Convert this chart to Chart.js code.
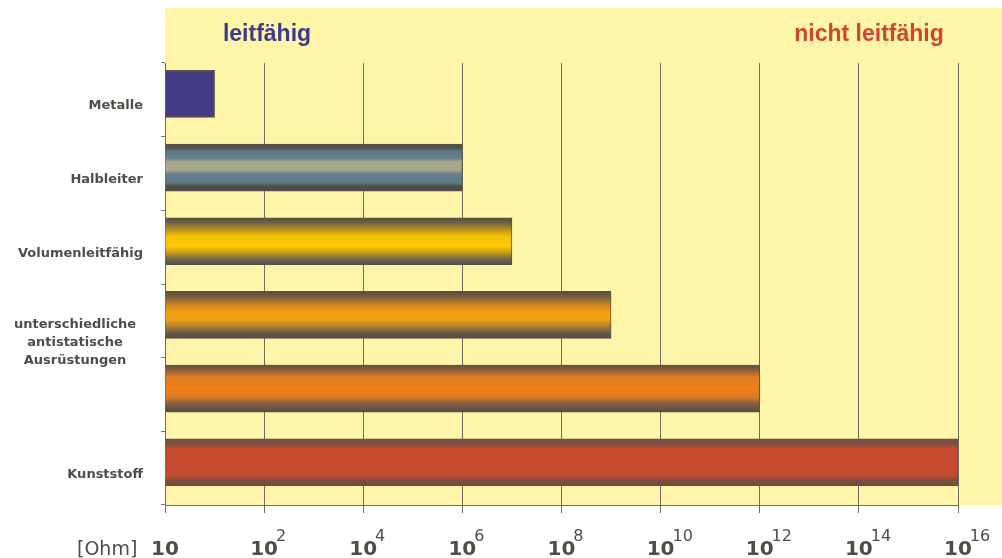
<!DOCTYPE html>
<html>
<head>
<meta charset="utf-8">
<script src="https://cdn.jsdelivr.net/npm/chart.js@4"></script>
<style>
    html, body { margin: 0; padding: 0; background: #fff; }
    #wrap { width: 1002px; height: 558px; position: relative; }
</style>
</head>
<body>
<div id="wrap"><canvas id="chart"></canvas></div>
<script>
// Werte (Widerstand in Ohm)
var categories = ['Metalle', 'Halbleiter', 'Volumenleitfähig',
    'unterschiedliche\nantistatische\nAusrüstungen',
    'unterschiedliche\nantistatische\nAusrüstungen',
    'Kunststoff'];
var resistance = [1e1, 1e6, 1e7, 1e9, 1e12, 1e16];
var tickValues = [1, 1e2, 1e4, 1e6, 1e8, 1e10, 1e12, 1e14, 1e16];
var tickBases = ['10', '10', '10', '10', '10', '10', '10', '10', '10'];
var tickExponents = ['', '2', '4', '6', '8', '10', '12', '14', '16'];
var unitLabel = '[Ohm]';
var leftHeading = 'leitfähig';
var rightHeading = 'nicht leitfähig';

// Farbverläufe der Balken (oben -> unten)
var barStops = [
    [[0, '#56525e'], [0.06, '#443d86'], [0.94, '#443d86'], [1, '#4c4660']],
    [[0, '#4f4d42'], [0.09, '#56574e'], [0.15, '#5c7a88'], [0.3, '#66808c'], [0.38, '#aaa88b'],
        [0.56, '#a8a689'], [0.63, '#66808c'], [0.82, '#5c7a88'], [0.9, '#4f4d42'], [1, '#4f4d42']],
    [[0, '#585040'], [0.1, '#6d6048'], [0.25, '#b89020'], [0.4, '#f5c400'], [0.6, '#ffc800'],
        [0.75, '#c89a18'], [0.88, '#706450'], [1, '#555045']],
    [[0, '#5a4a3c'], [0.12, '#7a6040'], [0.3, '#d08a20'], [0.45, '#f5a010'], [0.6, '#f0a018'],
        [0.75, '#b07a30'], [0.88, '#6a5a48'], [1, '#55483c']],
    [[0, '#6a4e40'], [0.1, '#8a6040'], [0.25, '#e07a20'], [0.5, '#f08018'], [0.7, '#d87828'],
        [0.8, '#8a6040'], [0.92, '#6a5446'], [1, '#5a4a40']],
    [[0, '#7a5040'], [0.12, '#7a5040'], [0.2, '#c84a30'], [0.8, '#c44a30'], [0.88, '#7a5040'], [1, '#75503f']]
];
var fallbackColors = ['#443d86', '#5c7a88', '#f5c400', '#f0a018', '#f08018', '#c84a30'];

var BAR_H = 47;
var TEXT = '#4e4d46';

var decor = {
    id: 'decor',
    beforeDraw(chart) {
        var c = chart.ctx, a = chart.chartArea;
        c.save();
        c.fillStyle = '#fff';
        c.fillRect(0, 0, chart.width, chart.height);
        c.fillStyle = '#fff5a8';
        c.fillRect(a.left, 8, chart.width - a.left, a.bottom - 8);
        c.restore();
    },
    afterDraw(chart) {
        var c = chart.ctx, a = chart.chartArea;
        var xs = chart.scales.x, ys = chart.scales.y;
        c.save();

        // Überschriften
        c.font = 'bold 23px "Liberation Sans"';
        c.textAlign = 'center';
        c.textBaseline = 'alphabetic';
        c.fillStyle = '#3b3a8c';
        c.fillText(leftHeading, a.left + 102, 41);
        c.fillStyle = '#d2442f';
        c.fillText(rightHeading, a.right - 89, 41);

        // Kategorien
        c.fillStyle = TEXT;
        c.font = 'bold 13px "DejaVu Sans"';
        c.textBaseline = 'middle';
        for (var i = 0; i < categories.length; i++) {
            if (i > 0 && categories[i] === categories[i - 1]) continue;
            if (categories[i] === categories[i + 1]) {
                var mid = (ys.getPixelForValue(i) + ys.getPixelForValue(i + 1)) / 2 - 15;
                var lines = categories[i].split('\n');
                c.textAlign = 'center';
                lines.forEach(function (ln, k) {
                    c.fillText(ln, a.left - 90, mid + (k - (lines.length - 1) / 2) * 18);
                });
            } else {
                c.textAlign = 'right';
                c.fillText(categories[i], a.left - 22, ys.getPixelForValue(i) + 6);
            }
        }

        // x-Achse
        c.textAlign = 'left';
        c.textBaseline = 'alphabetic';
        tickValues.forEach(function (v, i) {
            var bx = xs.getPixelForValue(v) - 14;
            c.font = 'bold 20px "DejaVu Sans"';
            c.fillText(tickBases[i], bx, 555);
            var w = c.measureText(tickBases[i]).width;
            c.font = '16px "DejaVu Sans"';
            c.fillText(tickExponents[i], bx + w - 2, 541);
        });
        c.font = '19px "DejaVu Sans"';
        c.fillText(unitLabel, 77, 555);
        c.restore();
    }
};

var config = {
    type: 'bar',
    data: {
        labels: categories,
        datasets: [{
            label: 'Widerstand',
            data: resistance.map(function (v, i) { return { x: v, y: i }; }),
            xAxisID: 'x',
            yAxisID: 'yb',
            base: 1,
            barThickness: BAR_H,
            borderWidth: 1,
            borderColor: '#55504a',
            backgroundColor: function (ctx) {
                var yb = ctx.chart.scales.yb;
                var fb = fallbackColors[ctx.dataIndex] || '#999';
                if (!yb || ctx.type !== 'data') return fb;
                var mid = yb.getPixelForValue(ctx.dataIndex);
                if (!isFinite(mid)) return fb;
                var g = ctx.chart.ctx.createLinearGradient(0, mid - BAR_H / 2, 0, mid + BAR_H / 2);
                barStops[ctx.dataIndex].forEach(function (s) { g.addColorStop(s[0], s[1]); });
                return g;
            }
        }]
    },
    options: {
        indexAxis: 'y',
        responsive: true,
        maintainAspectRatio: false,
        animation: false,
        layout: { padding: { top: 63, right: 44, left: 0, bottom: 0 } },
        plugins: { legend: { display: false }, tooltip: { enabled: false } },
        scales: {
            x: {
                type: 'logarithmic',
                min: 1,
                max: 1e16,
                afterBuildTicks: function (s) { s.ticks = tickValues.map(function (v) { return { value: v }; }); },
                afterFit: function (s) { s.height = 53; },
                ticks: { display: false },
                grid: { color: '#6f6c60', lineWidth: 1, tickLength: 8 },
                border: { color: '#6f6c60' }
            },
            y: {
                type: 'category',
                position: 'left',
                offset: true,
                afterFit: function (s) { s.width = 165; },
                ticks: { display: false },
                grid: { offset: true, drawOnChartArea: false, tickLength: 4, color: '#777' },
                border: { color: '#666' }
            },
            yb: {
                type: 'linear',
                axis: 'y',
                position: 'left',
                display: false,
                offset: false,
                reverse: true,
                min: -0.42,
                max: 5.58
            }
        }
    },
    plugins: [decor]
};

window.onload = () => {
    new Chart(document.getElementById('chart'), config);
};
</script>
</body>
</html>
